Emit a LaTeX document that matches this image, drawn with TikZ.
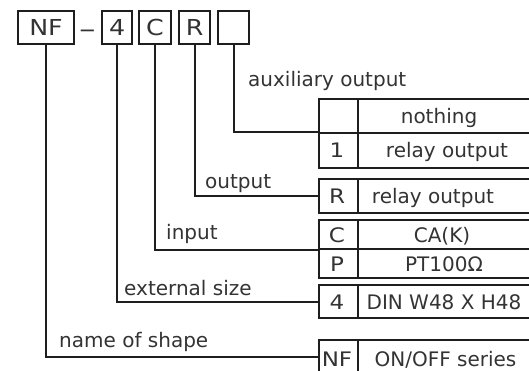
\documentclass[tikz,border=0pt]{standalone}
\usepackage{fontspec}
\setmainfont{DejaVu Sans}
\newfontfamily\widefont[FakeStretch=1.15]{DejaVu Sans}
\definecolor{lc}{HTML}{1E1E1E}
\definecolor{tc}{HTML}{333333}
\begin{document}
\begin{tikzpicture}[x=1pt,y=-1pt,
  ln/.style={draw=lc, line width=2.1pt},
  topbox/.style={ln, inner sep=0pt, minimum height=33pt, anchor=north west, font=\widefont\fontsize{22}{26}\selectfont, text=tc},
  cell/.style={ln, inner sep=0pt, anchor=north west},
  txt/.style={anchor=base, inner sep=0pt, font=\fontsize{20}{24}\selectfont, text=tc},
  key/.style={txt, font=\widefont\fontsize{20}{24}\selectfont},
  lbl/.style={anchor=base west, inner sep=0pt, font=\fontsize{20}{24}\selectfont, text=tc},
  conn/.style={draw=lc, line width=2.1pt}]
\useasboundingbox (0,0) rectangle (529,371);
\clip (0,0) rectangle (529,371);
% code boxes
\node[topbox, minimum width=56pt] (bNF) at (17,10) {NF};
\node[topbox, minimum width=30pt] (b4) at (101,10) {4};
\node[topbox, minimum width=32pt] (bC) at (138,10) {C};
\node[topbox, minimum width=31pt] (bR) at (178,10) {R};
\node[topbox, minimum width=31pt] (bX) at (217,10) {};
\node[txt, font=\fontsize{21}{24}\selectfont] (dash) at (87.5,38) {−};
% auxiliary output table
\node[cell, minimum width=39pt, minimum height=33.4pt] (aK0) at (317.7,98.3) {};
\node[cell, minimum width=180pt, minimum height=33.4pt] (aV0) at (356.7,98.3) {};
\node[cell, minimum width=39pt, minimum height=35.6pt] (aK1) at (317.7,131.7) {};
\node[cell, minimum width=180pt, minimum height=35.6pt] (aV1) at (356.7,131.7) {};
\node[txt] (aT0) at (439,123.5) {nothing};
\node[key] (aN1) at (337,158) {1};
\node[txt] (aT1) at (447,158) {relay output};
% output table
\node[cell, minimum width=39pt, minimum height=33.4pt] (tRk) at (317.7,178.3) {};
\node[cell, minimum width=180pt, minimum height=33.4pt] (tRv) at (356.7,178.3) {};
\node[key] (tRn) at (337,203.5) {R};
\node[txt] (tRt) at (433,203.5) {relay output};
% input table
\node[cell, minimum width=39pt, minimum height=29.3pt] (tCk) at (317.7,219) {};
\node[cell, minimum width=180pt, minimum height=29.3pt] (tCv) at (356.7,219) {};
\node[cell, minimum width=39pt, minimum height=28.4pt] (tPk) at (317.7,248.3) {};
\node[cell, minimum width=180pt, minimum height=28.4pt] (tPv) at (356.7,248.3) {};
\node[key] (tCn) at (337,242.5) {C};
\node[txt] (tCt) at (442,242.5) {CA(K)};
\node[key] (tPn) at (337,271) {P};
\node[txt] (tPt) at (444,271) {PT100Ω};
% external size table
\node[cell, minimum width=39pt, minimum height=32.4pt] (t4k) at (317.7,284.3) {};
\node[cell, minimum width=180pt, minimum height=32.4pt] (t4v) at (356.7,284.3) {};
\node[key] (t4n) at (337,309) {4};
\node[txt] (t4t) at (444,309) {DIN W48 X H48};
% name of shape table
\node[cell, minimum width=39pt, minimum height=34pt] (tNFk) at (317.7,339.3) {};
\node[cell, minimum width=180pt, minimum height=34pt] (tNFv) at (356.7,339.3) {};
\node[key] (tNFn) at (337,366) {NF};
\node[txt] (tNFt) at (445.5,366) {ON/OFF series};
% labels
\node[lbl] (lAux) at (248,86.7) {auxiliary output};
\node[lbl] (lOut) at (205,188.3) {output};
\node[lbl] (lIn) at (166,239.3) {input};
\node[lbl] (lExt) at (124,295) {external size};
\node[lbl] (lName) at (59,347.7) {name of shape};
% connectors
\draw[conn] (bNF.south) |- (tNFk.west);
\draw[conn] (b4.south) |- (t4k.west);
\draw[conn] (bC.south) |- (tCk.south west);
\draw[conn] (bR.south) |- (tRk.west);
\draw[conn] (bX.south) |- (aK1.north west);
\end{tikzpicture}
\end{document}
